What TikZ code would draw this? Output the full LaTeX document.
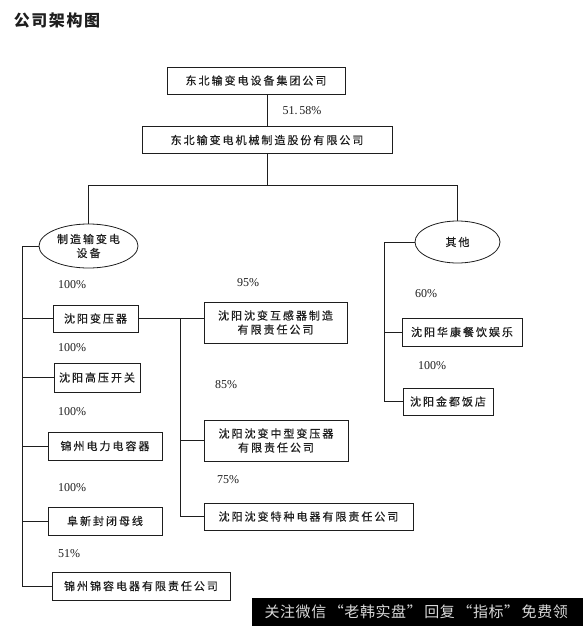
\documentclass[tikz,border=0pt]{standalone}
\usepackage{fontspec}
\setmainfont{Liberation Serif}
\newfontfamily\cjk[LetterSpace=18, FakeBold=0.6]{Noto Sans CJK SC}
\newfontfamily\cjktitle[LetterSpace=10]{Noto Sans CJK SC}
\newfontfamily\cjkmark[LetterSpace=4]{Noto Sans CJK SC}
\usetikzlibrary{shapes.geometric}
\definecolor{ink}{RGB}{30, 30, 30}

\begin{document}
\begin{tikzpicture}[x=1pt, y=-1pt, every node/.style={font=\fontsize{11}{14}\selectfont\cjk, text=ink}]
    \tikzstyle{box} = [draw=ink, rectangle, line width=0.8pt, inner sep=0pt, align=center]
    \tikzstyle{ell} = [draw=ink, ellipse, line width=0.8pt, inner sep=0pt, align=center]
    \tikzstyle{pct} = [font=\fontsize{12}{14}\selectfont\rmfamily]
    \tikzstyle{link} = [draw=ink, line width=0.7pt]

    \useasboundingbox (0,0) rectangle (583,626);

    % title
    \node (title) at (57,20.5) {\fontsize{16}{18}\selectfont\cjktitle\bfseries 公司架构图};

    % group and listed company
    \node (group) [box, minimum width=178pt, minimum height=27pt] at (256,80.5) {东北输变电设备集团公司};
    \node (ltd) [box, minimum width=250pt, minimum height=27pt] at (267,140) {东北输变电机械制造股份有限公司};
    \node (p0) [pct] at (302,111) {51.\,58\%};

    % two business lines
    \node (mfg) [ell, minimum width=99pt, minimum height=44pt] at (88.5,246) {制造输变电\\设备};
    \node (oth) [ell, minimum width=85pt, minimum height=42pt] at (457.5,242) {其他};

    % manufacturing subsidiaries
    \node (sybyq) [box, minimum width=85pt, minimum height=27pt] at (95.5,318.5) {沈阳变压器};
    \node (gykg) [box, minimum width=86pt, minimum height=29pt] at (97,377.5) {沈阳高压开关};
    \node (jzdr) [box, minimum width=114pt, minimum height=28pt] at (105,446) {锦州电力电容器};
    \node (fxfb) [box, minimum width=114pt, minimum height=28pt] at (105,521) {阜新封闭母线};
    \node (jzjr) [box, minimum width=178pt, minimum height=28pt] at (141,586) {锦州锦容电器有限责任公司};

    \node (p1) [pct] at (72,285) {100\%};
    \node (p2) [pct] at (72,348) {100\%};
    \node (p3) [pct] at (72,412) {100\%};
    \node (p4) [pct] at (72,488) {100\%};
    \node (p5) [pct] at (69,554) {51\%};

    % subsidiaries of the transformer works
    \node (hgq) [box, minimum width=143pt, minimum height=41pt] at (275.5,322.5) {沈阳沈变互感器制造\\有限责任公司};
    \node (zxbyq) [box, minimum width=144pt, minimum height=41pt] at (276,440.5) {沈阳沈变中型变压器\\有限责任公司};
    \node (tzdq) [box, minimum width=209pt, minimum height=27pt] at (308.5,516.5) {沈阳沈变特种电器有限责任公司};

    \node (p6) [pct] at (248,283) {95\%};
    \node (p7) [pct] at (226,385) {85\%};
    \node (p8) [pct] at (228,480) {75\%};

    % other business
    \node (hk) [box, minimum width=120pt, minimum height=28pt] at (462,332) {沈阳华康餐饮娱乐};
    \node (jdfd) [box, minimum width=90pt, minimum height=27pt] at (448,401.5) {沈阳金都饭店};

    \node (p9) [pct] at (426,294) {60\%};
    \node (p10) [pct] at (432,366) {100\%};

    % trunks
    \coordinate (split) at (267,185);
    \coordinate (ltrunk) at (22,0);
    \coordinate (mtrunk) at (180,0);
    \coordinate (rtrunk) at (384,0);

    % connectors
    \draw [link] (ltd.north |- group.south) -- (ltd.north);
    \draw [link] (ltd.south) -- (split);
    \draw [link] (mfg.north) -- (mfg.north |- split) -- (oth.north |- split) -- (oth.north);

    \draw [link] (mfg.west) -- (mfg.west -| ltrunk) |- (jzjr.west);
    \foreach \n in {sybyq, gykg, jzdr, fxfb}
        \draw [link] (ltrunk |- \n.west) -- (\n.west);

    \draw [link] (sybyq.east) -- (sybyq.east -| hgq.west);
    \draw [link] (mtrunk |- sybyq.east) |- (tzdq.west);
    \draw [link] (mtrunk |- zxbyq.west) -- (zxbyq.west);

    \draw [link] (oth.west) -- (oth.west -| rtrunk) |- (jdfd.west);
    \draw [link] (rtrunk |- hk.west) -- (hk.west);

    % banner
    \node (banner) [fill=black, minimum width=331pt, minimum height=28pt, inner sep=0pt, anchor=north west] at (252,598) {};
    \node (bannertext) [anchor=west, text=white!85!black, font=\fontsize{15}{17}\selectfont\cjkmark] at (261,612) {关注微信\,“老韩实盘”\,回复\,“指标”\,免费领};
\end{tikzpicture}
\end{document}
